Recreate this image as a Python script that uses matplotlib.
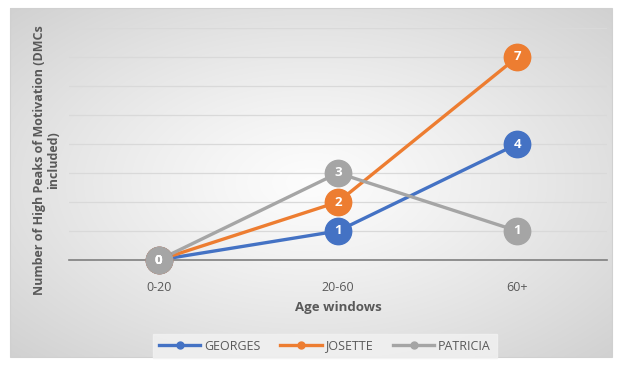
import numpy as np
import matplotlib
matplotlib.use("Agg")
import matplotlib.pyplot as plt
from matplotlib.lines import Line2D

categories = ["0-20", "20-60", "60+"]
georges = [0, 1, 4]
josette = [0, 2, 7]
patricia = [0, 3, 1]
series_names = ["GEORGES", "JOSETTE", "PATRICIA"]
colors = ["#4472C4", "#ED7D31", "#A5A5A5"]

plt.rcParams['font.family'] = ['Open Sans', 'DejaVu Sans']
W, H = 620, 367
fig = plt.figure(figsize=(W/100, H/100), dpi=100)
fig.patch.set_facecolor("white")

# background chart area with radial gradient
bx0, bx1, by0, by1 = 10, 612, 8, 357
bg = fig.add_axes([bx0/W, 1-by1/H, (bx1-bx0)/W, (by1-by0)/H], zorder=-5)
nx, ny = 300, 180
xx, yy = np.meshgrid(np.linspace(-1, 1, nx), np.linspace(-1, 1, ny))
r = np.sqrt(xx**2 + yy**2) / np.sqrt(2)
val = 0.99 - 0.17 * r**1.2
img = np.dstack([val, val, val])
bg.imshow(img, aspect="auto", extent=[0, 1, 0, 1], interpolation="bilinear")
bg.set_axis_off()
fig.patches.append(plt.Rectangle((bx0/W, 1-by1/H), (bx1-bx0)/W, (by1-by0)/H,
                                 transform=fig.transFigure, fill=False,
                                 edgecolor="#d0d0d0", linewidth=0.8, zorder=-4))

ax = fig.add_axes([69/W, 1-260/H, (607-69)/W, (260-28)/H])
ax.patch.set_alpha(0)
x = np.arange(len(categories))
ax.set_xlim(-0.5, len(categories)-0.5)
ax.set_ylim(0, 8)
ax.set_yticks(np.arange(0, 9, 1))
ax.set_yticklabels([])
ax.tick_params(axis="y", length=0)
ax.tick_params(axis="x", length=0, pad=15, labelsize=9, labelcolor="#595959")
ax.set_xticks(x)
ax.set_xticklabels(categories)
ax.grid(axis="y", color="#d9d9d9", linewidth=0.9)
ax.set_axisbelow(True)
for s in ["top", "right", "left"]:
    ax.spines[s].set_visible(False)
ax.spines["bottom"].set_color("#7f7f7f")
ax.spines["bottom"].set_linewidth(1.2)

for vals, c in zip([georges, josette, patricia], colors):
    ax.plot(x, vals, color=c, linewidth=2.4, zorder=3, solid_capstyle="round")
    ax.plot(x, vals, linestyle="none", marker="o", markersize=19,
            markerfacecolor=c, markeredgecolor=c, zorder=4, clip_on=False)
    for xi, v in zip(x, vals):
        ax.text(xi, v, str(v), ha="center", va="center", color="white",
                fontsize=9.5, fontweight="bold", zorder=5, clip_on=False)

ax.set_xlabel("Age windows", fontsize=9.5, fontweight="bold", color="#595959", labelpad=5)
fig.text(47/W, 1-160/H, "Number of High Peaks of Motivation (DMCs\nincluded)",
         rotation=90, ha="center", va="center", fontsize=9, fontweight="bold",
         color="#595959", linespacing=1.1)

handles = [Line2D([0], [0], color=c, linewidth=2.4, marker="o", markersize=5)
           for c in colors]
leg = fig.legend(handles, series_names, loc="center", bbox_to_anchor=(325/W, 1-346/H),
                 ncol=3, frameon=True, fontsize=9, handlelength=3.3,
                 columnspacing=1.6, handletextpad=0.3, borderpad=0.45)
leg.get_frame().set_facecolor("#f2f2f2")
leg.get_frame().set_edgecolor("#f2f2f2")
leg.get_frame().set_boxstyle("square", pad=0.0)
for t in leg.get_texts():
    t.set_color("#595959")

fig.savefig("out.png", dpi=100)
